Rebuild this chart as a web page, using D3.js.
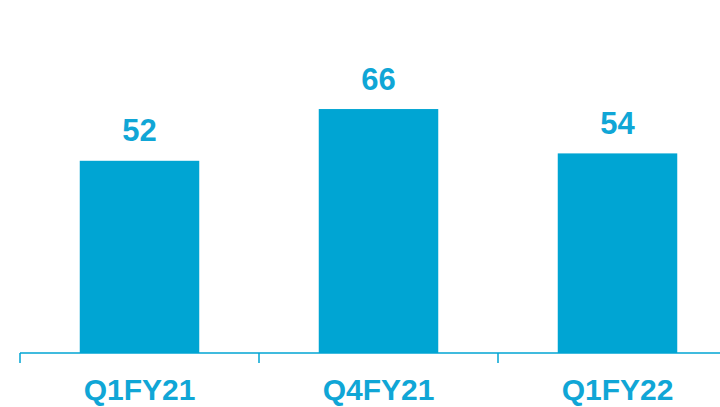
<!DOCTYPE html>
<html>
<head>
<meta charset="utf-8">
<script src="https://cdn.jsdelivr.net/npm/d3@7"></script>
<style>
  html, body { margin: 0; padding: 0; background: #fff; }
  svg { display: block; font-family: "Liberation Sans", Arial, sans-serif; }
</style>
</head>
<body>
<div id="chart"></div>
<script>
const categories = ['Q1FY21', 'Q4FY21', 'Q1FY22'];
const values = [52, 66, 54];

const width = 720;
const height = 407;
const color = '#00a5d3';
const textColor = '#10a6d6';

const svg = d3.select('#chart')
  .append('svg')
  .attr('width', width)
  .attr('height', height)
  .attr('viewBox', [0, 0, width, height]);

// band range runs past the right edge like the original slide crop
const x = d3.scaleBand()
  .domain(categories)
  .range([20, 737])
  .paddingInner(0)
  .paddingOuter(0);

const y = d3.scaleLinear()
  .domain([0, 95.5])
  .range([353, 0]);

const barW = x.bandwidth() * 0.5;

svg.selectAll('.bar')
  .data(values)
  .enter()
  .append('rect')
  .attr('class', 'bar')
  .attr('x', (d, i) => x(categories[i]) + (x.bandwidth() - barW) / 2)
  .attr('y', d => y(d))
  .attr('width', barW)
  .attr('height', d => y(0) - y(d))
  .style('fill', color);

// axis line + tick marks at band edges
const baseY = y(0);
svg.append('line')
  .attr('x1', 20).attr('x2', width)
  .attr('y1', baseY).attr('y2', baseY)
  .style('stroke', color)
  .style('stroke-width', 1.5);

svg.selectAll('.tick')
  .data(categories)
  .enter()
  .append('line')
  .attr('class', 'tick')
  .attr('x1', d => x(d)).attr('x2', d => x(d))
  .attr('y1', baseY).attr('y2', baseY + 10)
  .style('stroke', color)
  .style('stroke-width', 1.5);

svg.selectAll('.val')
  .data(values)
  .enter()
  .append('text')
  .attr('class', 'val')
  .attr('x', (d, i) => x(categories[i]) + x.bandwidth() / 2)
  .attr('y', d => y(d) - 19.5)
  .attr('text-anchor', 'middle')
  .style('font-size', '31px')
  .style('font-weight', 'bold')
  .style('fill', textColor)
  .text(d => d);

svg.selectAll('.cat')
  .data(categories)
  .enter()
  .append('text')
  .attr('class', 'cat')
  .attr('x', d => x(d) + x.bandwidth() / 2)
  .attr('y', 399.5)
  .attr('text-anchor', 'middle')
  .style('font-size', '30px')
  .style('font-weight', 'bold')
  .style('fill', textColor)
  .text(d => d);
</script>
</body>
</html>
